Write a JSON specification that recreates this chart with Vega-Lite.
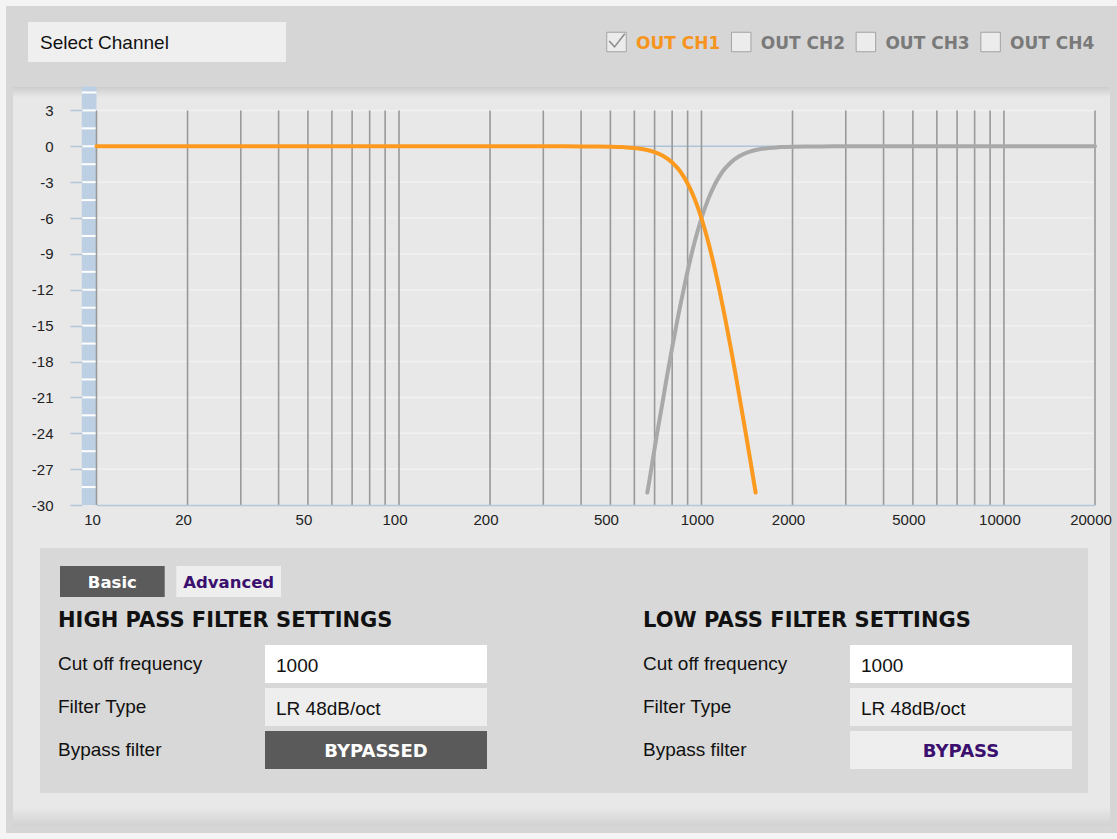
{
  "$schema": "https://vega.github.io/schema/vega-lite/v6.json",
  "width": 1111,
  "height": 827,
  "padding": {"left": 6, "top": 6, "right": 0, "bottom": 6},
  "autosize": {"type": "none"},
  "background": "#f4f4f4",
  "datasets": {
    "channels": [
      {"channel": "OUT CH1", "state": "checked"},
      {"channel": "OUT CH2", "state": "unchecked"},
      {"channel": "OUT CH3", "state": "unchecked"},
      {"channel": "OUT CH4", "state": "unchecked"}
    ],
    "gridFreqs": [
      {"f": 10}, {"f": 20}, {"f": 30}, {"f": 40}, {"f": 50}, {"f": 60}, {"f": 70}, {"f": 80}, {"f": 90},
      {"f": 100}, {"f": 200}, {"f": 300}, {"f": 400}, {"f": 500}, {"f": 600}, {"f": 700}, {"f": 800}, {"f": 900},
      {"f": 1000}, {"f": 2000}, {"f": 3000}, {"f": 4000}, {"f": 5000}, {"f": 6000}, {"f": 7000}, {"f": 8000}, {"f": 9000},
      {"f": 10000}, {"f": 20000}
    ],
    "gridLevels": [
      {"dB": 3}, {"dB": -3}, {"dB": -6}, {"dB": -9}, {"dB": -12}, {"dB": -15}, {"dB": -18}, {"dB": -21}, {"dB": -24}, {"dB": -27}
    ],
    "stripLevels": [
      {"dB": 4.5}, {"dB": 3}, {"dB": 1.5}, {"dB": 0}, {"dB": -1.5}, {"dB": -3}, {"dB": -4.5}, {"dB": -6}, {"dB": -7.5},
      {"dB": -9}, {"dB": -10.5}, {"dB": -12}, {"dB": -13.5}, {"dB": -15}, {"dB": -16.5}, {"dB": -18}, {"dB": -19.5},
      {"dB": -21}, {"dB": -22.5}, {"dB": -24}, {"dB": -25.5}, {"dB": -27}, {"dB": -28.5}
    ],
    "curves": [
      {"filter": "HP", "f": 662, "dB": -28.96}, {"filter": "HP", "f": 667, "dB": -28.51}, {"filter": "HP", "f": 690, "dB": -26.25},
      {"filter": "HP", "f": 714, "dB": -23.95}, {"filter": "HP", "f": 741, "dB": -21.65}, {"filter": "HP", "f": 769, "dB": -19.24},
      {"filter": "HP", "f": 800, "dB": -16.85}, {"filter": "HP", "f": 833, "dB": -14.49}, {"filter": "HP", "f": 870, "dB": -12.17},
      {"filter": "HP", "f": 909, "dB": -9.95}, {"filter": "HP", "f": 952, "dB": -7.88}, {"filter": "HP", "f": 1000, "dB": -6.02},
      {"filter": "HP", "f": 1053, "dB": -4.42}, {"filter": "HP", "f": 1111, "dB": -3.11}, {"filter": "HP", "f": 1176, "dB": -2.09},
      {"filter": "HP", "f": 1250, "dB": -1.35}, {"filter": "HP", "f": 1333, "dB": -0.83}, {"filter": "HP", "f": 1429, "dB": -0.49},
      {"filter": "HP", "f": 1538, "dB": -0.27}, {"filter": "HP", "f": 1667, "dB": -0.14}, {"filter": "HP", "f": 1818, "dB": -0.07},
      {"filter": "HP", "f": 2000, "dB": -0.03}, {"filter": "HP", "f": 2222, "dB": -0.01}, {"filter": "HP", "f": 2500, "dB": -0.01},
      {"filter": "HP", "f": 3000, "dB": 0}, {"filter": "HP", "f": 5000, "dB": 0}, {"filter": "HP", "f": 10000, "dB": 0},
      {"filter": "HP", "f": 20000, "dB": 0},
      {"filter": "LP", "f": 10, "dB": 0}, {"filter": "LP", "f": 100, "dB": 0}, {"filter": "LP", "f": 200, "dB": 0},
      {"filter": "LP", "f": 300, "dB": 0}, {"filter": "LP", "f": 400, "dB": -0.01}, {"filter": "LP", "f": 450, "dB": -0.01},
      {"filter": "LP", "f": 500, "dB": -0.03}, {"filter": "LP", "f": 550, "dB": -0.07}, {"filter": "LP", "f": 600, "dB": -0.14},
      {"filter": "LP", "f": 650, "dB": -0.27}, {"filter": "LP", "f": 700, "dB": -0.49}, {"filter": "LP", "f": 750, "dB": -0.83},
      {"filter": "LP", "f": 800, "dB": -1.35}, {"filter": "LP", "f": 850, "dB": -2.09}, {"filter": "LP", "f": 900, "dB": -3.11},
      {"filter": "LP", "f": 950, "dB": -4.42}, {"filter": "LP", "f": 1000, "dB": -6.02}, {"filter": "LP", "f": 1050, "dB": -7.88},
      {"filter": "LP", "f": 1100, "dB": -9.95}, {"filter": "LP", "f": 1150, "dB": -12.17}, {"filter": "LP", "f": 1200, "dB": -14.49},
      {"filter": "LP", "f": 1250, "dB": -16.85}, {"filter": "LP", "f": 1300, "dB": -19.24}, {"filter": "LP", "f": 1350, "dB": -21.65},
      {"filter": "LP", "f": 1400, "dB": -23.95}, {"filter": "LP", "f": 1450, "dB": -26.25}, {"filter": "LP", "f": 1500, "dB": -28.51},
      {"filter": "LP", "f": 1510, "dB": -28.96}
    ],
    "tabs": [
      {"tab": "Basic", "state": "active"},
      {"tab": "Advanced", "state": "inactive"}
    ],
    "titles": [
      {"filter": "HIGH PASS", "title": "HIGH PASS FILTER SETTINGS"},
      {"filter": "LOW PASS", "title": "LOW PASS FILTER SETTINGS"}
    ],
    "settings": [
      {"filter": "HIGH PASS", "item": "Cut off frequency", "value": "1000", "control": "input"},
      {"filter": "HIGH PASS", "item": "Filter Type", "value": "LR 48dB/oct", "control": "select"},
      {"filter": "HIGH PASS", "item": "Bypass filter", "value": "BYPASSED", "control": "button on"},
      {"filter": "LOW PASS", "item": "Cut off frequency", "value": "1000", "control": "input"},
      {"filter": "LOW PASS", "item": "Filter Type", "value": "LR 48dB/oct", "control": "select"},
      {"filter": "LOW PASS", "item": "Bypass filter", "value": "BYPASS", "control": "button off"}
    ]
  },
  "layer": [
    {
      "data": {"values": [{"panel": "graph and settings"}]},
      "mark": {"type": "rect", "fill": {"gradient": "linear", "x1": 0, "y1": 0, "x2": 0, "y2": 1, "stops": [
        {"offset": 0, "color": "#cdcdcd"}, {"offset": 0.014, "color": "#e8e8e8"},
        {"offset": 0.975, "color": "#e8e8e8"}, {"offset": 1, "color": "#d2d2d2"}]}},
      "encoding": {
        "x": {"field": "panel", "type": "nominal", "scale": {"type": "band", "range": [7, 1104], "paddingInner": 0, "paddingOuter": 0}, "axis": null},
        "y": {"field": "panel", "type": "nominal", "scale": {"type": "band", "range": [81, 820], "paddingInner": 0, "paddingOuter": 0}, "axis": null}
      }
    },
    {
      "data": {"values": [{"panel": "filter settings"}]},
      "mark": {"type": "rect", "fill": "#d8d8d8"},
      "encoding": {
        "x": {"field": "panel", "type": "nominal", "scale": {"type": "band", "range": [34, 1082], "paddingInner": 0, "paddingOuter": 0}, "axis": null},
        "y": {"field": "panel", "type": "nominal", "scale": {"type": "band", "range": [542, 787], "paddingInner": 0, "paddingOuter": 0}, "axis": null}
      }
    },
    {
      "data": {"values": [{"control": "Select Channel"}]},
      "layer": [
        {
          "mark": {"type": "rect", "fill": "#efefef"},
          "encoding": {
            "x": {"field": "control", "type": "nominal", "scale": {"type": "band", "range": [22, 280], "paddingInner": 0, "paddingOuter": 0}, "axis": null},
            "y": {"field": "control", "type": "nominal", "scale": {"type": "band", "range": [16, 56], "paddingInner": 0, "paddingOuter": 0}, "axis": null}
          }
        },
        {
          "mark": {"type": "text", "align": "left", "baseline": "middle", "dx": 12, "dy": 1, "font": "Liberation Sans", "fontSize": 19, "color": "#111111"},
          "encoding": {
            "x": {"field": "control", "type": "nominal", "bandPosition": 0, "scale": {"type": "band", "range": [22, 280], "paddingInner": 0, "paddingOuter": 0}, "axis": null},
            "y": {"field": "control", "type": "nominal", "scale": {"type": "band", "range": [16, 56], "paddingInner": 0, "paddingOuter": 0}, "axis": null},
            "text": {"field": "control"}
          }
        }
      ]
    },
    {
      "data": {"name": "channels"},
      "encoding": {
        "x": {"field": "channel", "type": "nominal", "scale": {"type": "band", "domain": ["OUT CH1", "OUT CH2", "OUT CH3", "OUT CH4"], "range": [548.15, 1046.95], "paddingInner": 0, "paddingOuter": 0}, "axis": null},
        "y": {"datum": "channels", "type": "nominal", "scale": {"type": "band", "range": [16, 56], "paddingInner": 0, "paddingOuter": 0}, "axis": null}
      },
      "layer": [
        {"mark": {"type": "point", "shape": "square", "size": 380, "filled": true, "fill": "#ececec", "stroke": "#a3a3a3", "strokeWidth": 1, "opacity": 1}},
        {
          "transform": [{"filter": "datum.state == 'checked'"}],
          "mark": {"type": "point", "shape": "M-0.75,-0.1L-0.2,0.5L0.85,-0.85", "size": 380, "filled": false, "stroke": "#8c8c8c", "strokeWidth": 1.6, "opacity": 1}
        },
        {
          "mark": {"type": "text", "align": "left", "baseline": "middle", "dx": 19.5, "dy": 2, "font": "DejaVu Sans", "fontWeight": "bold", "fontSize": 17},
          "encoding": {
            "text": {"field": "channel"},
            "color": {"field": "state", "type": "nominal", "scale": {"domain": ["checked", "unchecked"], "range": ["#f7941d", "#7a7a7a"]}, "legend": null}
          }
        }
      ]
    },
    {
      "layer": [
        {
          "data": {"name": "gridLevels"},
          "mark": {"type": "rule", "color": "#f1f1f1", "strokeWidth": 1.5},
          "encoding": {
            "y": {"field": "dB", "type": "quantitative", "title": null, "scale": {"domain": [-30, 3], "range": [499, 104.4], "zero": false, "nice": false},
              "axis": {"orient": "left", "offset": -76, "values": [3, 0, -3, -6, -9, -12, -15, -18, -21, -24, -27, -30],
                "labelExpr": "datum.value < 0 ? '-' + toString(-datum.value) : toString(datum.value)",
                "labelFont": "Liberation Sans", "labelFontSize": 15, "labelColor": "#222222", "ticks": true, "tickSize": 12,
                "tickColor": "#b3c7db", "tickWidth": 1.5, "domain": false, "grid": false, "labelPadding": 17,
                "labelFlush": false, "labelOverlap": false, "labelBound": false, "title": null, "zindex": 1}},
            "x": {"datum": 10, "type": "quantitative", "scale": {"type": "log", "domain": [10, 20000], "range": [90.5, 1089]}},
            "x2": {"datum": 20000}
          }
        },
        {
          "data": {"values": [{"band": "level strip"}]},
          "mark": {"type": "rect", "fill": "#bdd0e3"},
          "encoding": {
            "x": {"datum": 8.94, "type": "quantitative", "scale": {"type": "log", "domain": [10, 20000], "range": [90.5, 1089]}},
            "x2": {"datum": 10},
            "y": {"datum": 5, "type": "quantitative", "scale": {"domain": [-30, 3], "range": [499, 104.4], "zero": false, "nice": false}},
            "y2": {"datum": -30}
          }
        },
        {
          "data": {"name": "stripLevels"},
          "mark": {"type": "rule", "color": "#ffffff", "strokeWidth": 2},
          "encoding": {
            "y": {"field": "dB", "type": "quantitative", "title": null, "scale": {"domain": [-30, 3], "range": [499, 104.4], "zero": false, "nice": false}},
            "x": {"datum": 8.94, "type": "quantitative", "scale": {"type": "log", "domain": [10, 20000], "range": [90.5, 1089]}},
            "x2": {"datum": 10}
          }
        },
        {
          "data": {"values": [{"line": "0 dB"}]},
          "mark": {"type": "rule", "color": "#adc3da", "strokeWidth": 1.5},
          "encoding": {
            "y": {"datum": 0, "type": "quantitative", "scale": {"domain": [-30, 3], "range": [499, 104.4], "zero": false, "nice": false}},
            "x": {"datum": 10, "type": "quantitative", "scale": {"type": "log", "domain": [10, 20000], "range": [90.5, 1089]}},
            "x2": {"datum": 20000}
          }
        },
        {
          "data": {"name": "gridFreqs"},
          "mark": {"type": "rule", "color": "#999999", "strokeWidth": 1.6},
          "encoding": {
            "x": {"field": "f", "type": "quantitative", "title": null, "scale": {"type": "log", "domain": [10, 20000], "range": [90.5, 1089]},
              "axis": {"orient": "bottom", "offset": -328, "values": [10, 20, 50, 100, 200, 500, 1000, 2000, 5000, 10000, 20000],
                "format": "d", "labelFont": "Liberation Sans", "labelFontSize": 15, "labelColor": "#222222",
                "ticks": false, "tickSize": 0, "domain": true, "domainColor": "#b3c7db", "domainWidth": 1.5, "grid": false,
                "labelPadding": 7, "labelOffset": -4.5, "labelFlush": false, "labelOverlap": false, "labelBound": false, "title": null, "zindex": 1}},
            "y": {"datum": 3, "type": "quantitative", "scale": {"domain": [-30, 3], "range": [499, 104.4], "zero": false, "nice": false}},
            "y2": {"datum": -30}
          }
        },
        {
          "data": {"name": "curves"},
          "transform": [{"filter": "datum.filter == 'HP'"}],
          "mark": {"type": "line", "color": "#a9a9a9", "strokeWidth": 4, "interpolate": "monotone", "strokeCap": "round"},
          "encoding": {
            "x": {"field": "f", "type": "quantitative", "title": null, "scale": {"type": "log", "domain": [10, 20000], "range": [90.5, 1089]}},
            "y": {"field": "dB", "type": "quantitative", "title": null, "scale": {"domain": [-30, 3], "range": [499, 104.4], "zero": false, "nice": false}}
          }
        },
        {
          "data": {"name": "curves"},
          "transform": [{"filter": "datum.filter == 'LP'"}],
          "mark": {"type": "line", "color": "#fb9a1f", "strokeWidth": 4, "interpolate": "monotone", "strokeCap": "round"},
          "encoding": {
            "x": {"field": "f", "type": "quantitative", "title": null, "scale": {"type": "log", "domain": [10, 20000], "range": [90.5, 1089]}},
            "y": {"field": "dB", "type": "quantitative", "title": null, "scale": {"domain": [-30, 3], "range": [499, 104.4], "zero": false, "nice": false}}
          }
        }
      ]
    },
    {
      "data": {"name": "tabs"},
      "encoding": {
        "x": {"field": "tab", "type": "nominal", "scale": {"type": "band", "domain": ["Basic", "Advanced"], "range": [54, 275], "paddingInner": 0.1, "paddingOuter": 0}, "axis": null},
        "y": {"datum": "tabs", "type": "nominal", "scale": {"type": "band", "range": [560, 591], "paddingInner": 0, "paddingOuter": 0}, "axis": null}
      },
      "layer": [
        {
          "mark": {"type": "rect"},
          "encoding": {"fill": {"field": "state", "type": "nominal", "scale": {"domain": ["active", "inactive"], "range": ["#5b5b5b", "#eeeeee"]}, "legend": null}}
        },
        {
          "mark": {"type": "text", "baseline": "middle", "dy": 1, "font": "DejaVu Sans", "fontWeight": "bold", "fontSize": 16.5},
          "encoding": {
            "text": {"field": "tab"},
            "color": {"field": "state", "type": "nominal", "scale": {"domain": ["active", "inactive"], "range": ["#ffffff", "#3b0f6e"]}, "legend": null}
          }
        }
      ]
    },
    {
      "layer": [
        {
          "data": {"name": "titles"},
          "mark": {"type": "text", "align": "left", "baseline": "middle", "font": "DejaVu Sans", "fontWeight": "bold", "fontSize": 21, "color": "#111111"},
          "encoding": {
            "x": {"field": "filter", "type": "nominal", "bandPosition": 0, "scale": {"type": "band", "domain": ["HIGH PASS", "LOW PASS"], "range": [52, 1066], "paddingInner": 0.2667, "paddingOuter": 0}, "axis": null},
            "y": {"datum": "title", "type": "nominal", "scale": {"type": "band", "domain": ["title", "Cut off frequency", "Filter Type", "Bypass filter"], "range": [596.1, 762.9], "paddingInner": 0.12, "paddingOuter": 0}, "axis": null},
            "text": {"field": "title"}
          }
        },
        {
          "data": {"name": "settings"},
          "mark": {"type": "text", "align": "left", "baseline": "middle", "font": "Liberation Sans", "fontSize": 19, "color": "#111111"},
          "encoding": {
            "x": {"field": "filter", "type": "nominal", "bandPosition": 0, "scale": {"type": "band", "domain": ["HIGH PASS", "LOW PASS"], "range": [52, 1066], "paddingInner": 0.2667, "paddingOuter": 0}, "axis": null},
            "y": {"field": "item", "type": "nominal", "scale": {"type": "band", "domain": ["title", "Cut off frequency", "Filter Type", "Bypass filter"], "range": [596.1, 762.9], "paddingInner": 0.12, "paddingOuter": 0}, "axis": null},
            "text": {"field": "item"}
          }
        }
      ]
    },
    {
      "data": {"name": "settings"},
      "encoding": {
        "x": {"field": "filter", "type": "nominal", "scale": {"type": "band", "domain": ["HIGH PASS", "LOW PASS"], "range": [259, 1066], "paddingInner": 0.6205, "paddingOuter": 0}, "axis": null},
        "y": {"field": "item", "type": "nominal", "scale": {"type": "band", "domain": ["title", "Cut off frequency", "Filter Type", "Bypass filter"], "range": [596.1, 762.9], "paddingInner": 0.12, "paddingOuter": 0}, "axis": null}
      },
      "layer": [
        {
          "mark": {"type": "rect"},
          "encoding": {"fill": {"field": "control", "type": "nominal", "scale": {"domain": ["input", "select", "button on", "button off"], "range": ["#ffffff", "#eeeeee", "#5a5a5a", "#eeeeee"]}, "legend": null}}
        },
        {
          "transform": [{"filter": "datum.control == 'input' || datum.control == 'select'"}],
          "mark": {"type": "text", "align": "left", "baseline": "middle", "dx": 11, "dy": 2, "font": "Liberation Sans", "fontSize": 19, "color": "#111111"},
          "encoding": {
            "x": {"field": "filter", "type": "nominal", "bandPosition": 0, "scale": {"type": "band", "domain": ["HIGH PASS", "LOW PASS"], "range": [259, 1066], "paddingInner": 0.6205, "paddingOuter": 0}, "axis": null},
            "text": {"field": "value"}
          }
        },
        {
          "transform": [{"filter": "datum.control == 'button on' || datum.control == 'button off'"}],
          "mark": {"type": "text", "baseline": "middle", "dy": 2, "font": "DejaVu Sans", "fontWeight": "bold", "fontSize": 18},
          "encoding": {
            "text": {"field": "value"},
            "color": {"field": "control", "type": "nominal", "scale": {"domain": ["button on", "button off"], "range": ["#ffffff", "#3b0f6e"]}, "legend": null}
          }
        }
      ]
    }
  ],
  "resolve": {"scale": {"x": "independent", "y": "independent", "color": "independent", "fill": "independent"}},
  "config": {"view": {"fill": "#d6d6d6", "stroke": null}}
}
